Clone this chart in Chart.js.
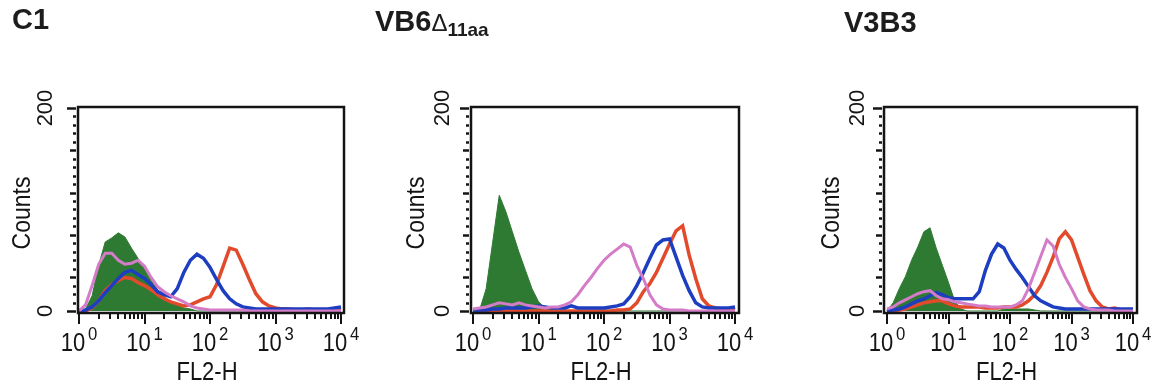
<!DOCTYPE html>
<html>
<head>
<meta charset="utf-8">
<script src="https://cdn.jsdelivr.net/npm/chart.js@4"></script>
<style>
  html, body { margin: 0; padding: 0; background: #fff; }
  #wrap { position: relative; width: 1152px; height: 388px; overflow: hidden;
          font-family: "Liberation Sans", Arial, sans-serif; }
  .panel { position: absolute; top: 0; width: 384px; height: 388px; }
  .title { position: absolute; font-weight: bold; font-size: 29px; line-height: 29px;
           color: #1c1c1c; white-space: nowrap; }
  .delta { font-weight: normal; font-size: 24px; }
  .sub { font-size: 19px; position: relative; top: 5px; }
</style>
</head>
<body>
<div id="wrap">
  <div class="panel" style="left:0px"><canvas id="panelC1" width="384" height="388"></canvas></div>
  <div class="panel" style="left:384px"><canvas id="panelVB6" width="384" height="388"></canvas></div>
  <div class="panel" style="left:768px"><canvas id="panelV3B3" width="384" height="388"></canvas></div>
  <div class="title" style="left:12px;top:5px">C1</div>
  <div class="title" style="left:375px;top:7px">VB6<span class="delta">Δ</span><span class="sub">11aa</span></div>
  <div class="title" style="left:844px;top:8px">V3B3</div>
</div>
<script>
// FL2-H channels: one histogram bin every 0.1 decade, 10^0 .. 10^4
const fl2Channels = Array.from({ length: 41 }, (_, i) => Math.pow(10, i / 10));
const decadeLabels = ['0', '1', '2', '3', '4'];
const countTicks = ['0', '200'];

// C1
const c1Green = [0,2,15,45,68,72,77,73,62,52, 42,30,21,14,9,6,3,2,0,0, 0,0,0,0,0,0,0,0,0,0, 0,0,0,0,0,0,0,0,0,0, 0];
const c1Pink  = [0,6,25,46,57,57,50,46,47,50, 44,33,24,19,15,12,9,5,3,2, 1,1,1,1,1,1,0,0,0,0, 0,0,0,0,0,0,0,0,0,0, 0];
const c1Red   = [0,0,3,10,20,26,30,33,32,28, 25,21,16,12,9,7,5,6,9,12, 14,26,44,62,60,46,31,17,9,5, 3,2,2,1,1,2,1,1,1,1, 1];
const c1Blue  = [0,1,4,10,18,25,32,38,40,36, 32,26,19,16,14,22,38,50,56,52, 43,31,20,12,7,4,3,2,2,2, 2,2,2,2,2,2,2,2,2,3, 4];

// VB6Δ11aa
const vb6Green = [0,1,22,68,114,98,78,58,40,22, 9,3,1,0,0,0,0,0,0,0, 0,0,0,0,0,0,0,0,0,0, 0,0,0,0,0,0,0,0,0,0, 0];
const vb6Pink  = [2,3,4,6,8,7,6,8,6,5, 4,3,4,4,6,9,16,25,33,42, 50,56,61,66,63,45,32,16,6,2, 1,1,1,0,0,0,0,0,0,0, 0];
const vb6Red   = [0,0,0,0,0,0,0,0,0,0, 0,0,0,0,0,0,0,0,0,0, 0,0,1,1,2,8,19,27,38,52, 66,79,84,55,32,12,5,3,2,2, 1];
const vb6Blue  = [0,1,1,2,2,3,3,3,3,4, 5,4,3,3,3,5,3,3,3,3, 3,4,5,7,14,25,38,52,65,70, 71,53,35,20,8,4,3,3,3,3, 4];

// V3B3
const v3b3Green = [0,8,22,34,50,63,78,82,62,45, 28,10,2,0,0,0,0,0,0,2, 2,2,2,2,1,0,0,0,0,0, 0,0,0,0,0,0,0,0,0,0, 0];
const v3b3Pink  = [2,4,8,11,14,17,19,20,15,12, 11,9,8,7,6,5,5,4,4,4, 4,6,10,22,38,54,70,64,46,33, 22,10,4,2,1,1,1,0,0,0, 0];
const v3b3Red   = [0,0,1,2,4,6,8,9,10,10, 7,5,4,4,4,4,3,3,3,4, 4,4,6,10,16,25,38,53,71,78, 70,53,36,20,10,4,2,3,1,1, 1];
const v3b3Blue  = [0,1,2,4,7,10,12,15,18,16, 13,12,12,12,12,19,40,56,66,62, 50,41,33,24,15,10,7,4,3,2, 2,2,2,2,2,2,2,2,2,2, 2];

const colours = { green: '#2f7a33', pink: '#d47cc8', red: '#e24a2c', blue: '#1d3ec0', axis: '#141414' };

// Frame, FACS-style ticks and axis text, placed with the chart's own scales
const facsAxes = {
  id: 'facsAxes',
  afterDraw(chart, args, opts) {
    const { ctx, chartArea: a, scales: { x, y } } = chart;
    ctx.save();
    ctx.strokeStyle = colours.axis;
    ctx.fillStyle = colours.axis;
    ctx.lineWidth = 2.5;
    ctx.strokeRect(a.left, a.top, a.right - a.left, a.bottom - a.top);

    // logarithmic x ticks below the frame
    ctx.lineWidth = 2;
    for (let d = 0; d <= 4; d++) {
      for (let m = 1; m <= (d === 4 ? 1 : 9); m++) {
        const px = Math.round(x.getPixelForValue(m * Math.pow(10, d)));
        const len = m === 1 ? 11 : 6;
        ctx.beginPath();
        ctx.moveTo(px, a.bottom);
        ctx.lineTo(px, a.bottom + len);
        ctx.stroke();
      }
    }

    // dotted count ticks on the left
    for (let k = 0; k <= 24; k++) {
      const py = Math.round(y.getPixelForValue(k * 200 / 24)) + 0.5;
      let len = 3;
      if (k === 0 || k === 24) len = 9;
      else if ((24 - k) % 5 === 0) len = 6;
      ctx.lineWidth = 2.5;
      ctx.beginPath();
      ctx.moveTo(a.left - 2, py);
      ctx.lineTo(a.left - 2 - len, py);
      ctx.stroke();
    }

    // decade labels 10^n
    decadeLabels.forEach((e, d) => {
      const cx = x.getPixelForValue(Math.pow(10, d));
      ctx.save();
      ctx.translate(cx, 0);
      ctx.scale(0.88, 1);
      ctx.font = '25px "Liberation Sans", Arial, sans-serif';
      const wBase = ctx.measureText('10').width;
      ctx.font = '19px "Liberation Sans", Arial, sans-serif';
      const wExp = ctx.measureText(e).width;
      const total = wBase + 3 + wExp;
      ctx.font = '25px "Liberation Sans", Arial, sans-serif';
      ctx.textAlign = 'left';
      ctx.textBaseline = 'alphabetic';
      ctx.fillText('10', -total / 2, 351);
      ctx.font = '19px "Liberation Sans", Arial, sans-serif';
      ctx.fillText(e, -total / 2 + wBase + 3, 340);
      ctx.restore();
    });

    // x title
    ctx.save();
    ctx.translate((a.left + a.right) / 2 - 4, 380);
    ctx.scale(0.88, 1);
    ctx.font = '25px "Liberation Sans", Arial, sans-serif';
    ctx.textAlign = 'center';
    ctx.fillText('FL2-H', 0, 0);
    ctx.restore();

    // rotated count labels and title
    [[0, countTicks[0]], [200, countTicks[1]]].forEach(([v, t]) => {
      ctx.save();
      ctx.translate(a.left - opts.numGap, y.getPixelForValue(v));
      ctx.rotate(-Math.PI / 2);
      ctx.font = '22px "Liberation Sans", Arial, sans-serif';
      ctx.textAlign = 'center';
      ctx.textBaseline = 'middle';
      ctx.fillText(t, 0, 0);
      ctx.restore();
    });
    ctx.save();
    ctx.translate(a.left - opts.titleGap, (a.top + a.bottom) / 2 + 3);
    ctx.rotate(-Math.PI / 2);
    ctx.scale(0.92, 1);
    ctx.font = '25px "Liberation Sans", Arial, sans-serif';
    ctx.textAlign = 'center';
    ctx.textBaseline = 'middle';
    ctx.fillText('Counts', 0, 0);
    ctx.restore();

    ctx.restore();
  }
};

function series(values) {
  return values.map((v, i) => ({ x: fl2Channels[i], y: v }));
}

function makePanel(id, data, frame) {
  const line = (values, colour, width) => ({
    data: series(values), borderColor: colour, borderWidth: width,
    pointRadius: 0, fill: false, tension: 0, borderJoinStyle: 'miter'
  });
  new Chart(document.getElementById(id), {
    type: 'line',
    data: {
      datasets: [
        line(data.pink, colours.pink, 3),
        line(data.blue, colours.blue, 3.5),
        line(data.red, colours.red, 3.5),
        { data: series(data.green), borderColor: colours.green, backgroundColor: colours.green,
          borderWidth: 1, pointRadius: 0, fill: 'origin', tension: 0 }
      ]
    },
    options: {
      responsive: false,
      animation: false,
      events: [],
      layout: { padding: frame.padding },
      plugins: {
        legend: { display: false },
        tooltip: { enabled: false },
        facsAxes: { numGap: frame.numGap, titleGap: frame.titleGap }
      },
      scales: {
        x: { type: 'logarithmic', min: frame.xMin, max: frame.xMax, display: false },
        y: { type: 'linear', min: -2, max: 201, display: false }
      }
    },
    plugins: [facsAxes]
  });
}

makePanel('panelC1',
  { green: c1Green, pink: c1Pink, red: c1Red, blue: c1Blue },
  { padding: { left: 78, right: 40, top: 107, bottom: 75 }, xMin: 0.965, xMax: 11100, numGap: 32, titleGap: 55 });
makePanel('panelVB6',
  { green: vb6Green, pink: vb6Pink, red: vb6Red, blue: vb6Blue },
  { padding: { left: 87, right: 29, top: 107, bottom: 75 }, xMin: 0.93, xMax: 11500, numGap: 28, titleGap: 54 });
makePanel('panelV3B3',
  { green: v3b3Green, pink: v3b3Pink, red: v3b3Red, blue: v3b3Blue },
  { padding: { left: 116, right: 15, top: 107, bottom: 75 }, xMin: 0.894, xMax: 11600, numGap: 26, titleGap: 52 });
</script>
</body>
</html>
